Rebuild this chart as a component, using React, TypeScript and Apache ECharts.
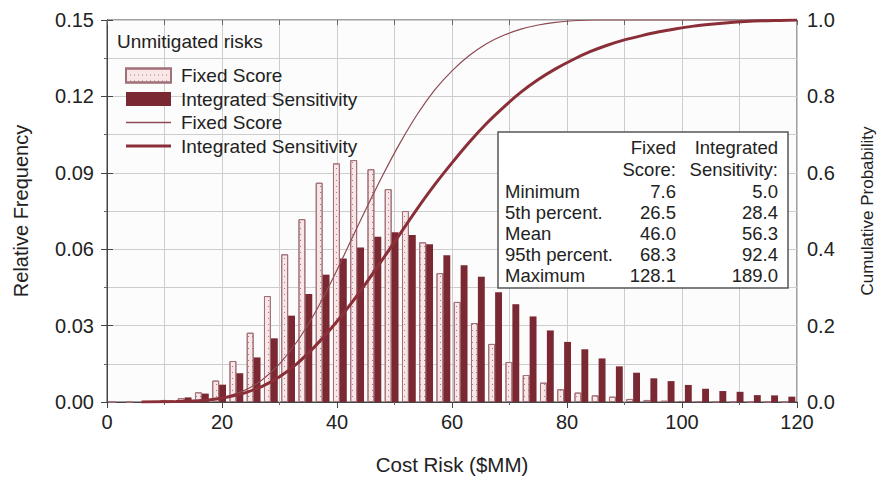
import React, { useEffect, useRef } from 'react';
import * as echarts from 'echarts';

// Histogram bins (width 3, centres)
const binCenters = [
  '1.5', '4.5', '7.5', '10.5', '13.5', '16.5', '19.5', '22.5', '25.5', '28.5',
  '31.5', '34.5', '37.5', '40.5', '43.5', '46.5', '49.5', '52.5', '55.5', '58.5',
  '61.5', '64.5', '67.5', '70.5', '73.5', '76.5', '79.5', '82.5', '85.5', '88.5',
  '91.5', '94.5', '97.5', '100.5', '103.5', '106.5', '109.5', '112.5', '115.5', '118.5',
];

const fixedScoreFreq = [
  0, 0, 0, 0.0008, 0.0015, 0.0038, 0.0084, 0.0161, 0.0272, 0.0416,
  0.058, 0.0718, 0.0861, 0.0937, 0.095, 0.0914, 0.0836, 0.075, 0.0627, 0.0506,
  0.0393, 0.031, 0.0228, 0.0157, 0.0106, 0.0076, 0.005, 0.0037, 0.0026, 0.0021,
  0.0012, 0.0008, 0.0005, 0.0004, 0.0003, 0.0002, 0.0002, 0.0001, 0.0001, 0.0001,
];

const integratedFreq = [
  0, 0, 0, 0.0006, 0.0018, 0.0033, 0.0068, 0.0113, 0.0175, 0.025,
  0.0339, 0.0424, 0.05, 0.0563, 0.0607, 0.0649, 0.0667, 0.0656, 0.0619, 0.0576,
  0.0537, 0.0492, 0.0431, 0.0384, 0.0336, 0.0281, 0.0236, 0.0207, 0.0171, 0.014,
  0.0115, 0.0093, 0.0082, 0.0067, 0.0052, 0.0043, 0.004, 0.0027, 0.0026, 0.0021,
];

// Cumulative curves (x = cost, y = cumulative probability)
const fixedCdfX = [9, 12, 15, 18, 21, 24, 27, 30, 33, 36, 39, 42, 45, 48, 51, 54, 57, 60, 63, 66, 69, 72, 75, 78, 81, 85, 90, 120];
const fixedCdfY = [0, 0.001, 0.003, 0.006, 0.015, 0.031, 0.058, 0.1, 0.157, 0.229, 0.315, 0.409, 0.504, 0.595, 0.679, 0.754, 0.817, 0.867, 0.907, 0.938, 0.96, 0.976, 0.987, 0.994, 0.998, 1.0, 1.0, 1.0];

const integratedCdfX = [6, 12, 15, 18, 21, 24, 27, 30, 33, 36, 39, 42, 45, 48, 51, 54, 57, 60, 63, 66, 69, 72, 75, 78, 81, 84, 87, 90, 93, 96, 99, 102, 105, 108, 111, 114, 117, 120];
const integratedCdfY = [0, 0.001, 0.0025, 0.006, 0.013, 0.024, 0.041, 0.066, 0.1, 0.143, 0.193, 0.249, 0.31, 0.375, 0.441, 0.507, 0.569, 0.626, 0.68, 0.729, 0.772, 0.811, 0.844, 0.872, 0.896, 0.917, 0.934, 0.948, 0.959, 0.969, 0.977, 0.984, 0.989, 0.993, 0.996, 0.998, 0.999, 1.0];

// Statistics table
const statNames = ['Minimum', '5th percent.', 'Mean', '95th percent.', 'Maximum'];
const fixedStats = ['7.6', '26.5', '46.0', '68.3', '128.1'];
const integratedStats = ['5.0', '28.4', '56.3', '92.4', '189.0'];

const FONT = '"Liberation Sans", Arial, Helvetica, sans-serif';
const TXT = '#222';

export default function App() {
  const ref = useRef<HTMLDivElement>(null);

  useEffect(() => {
    if (!ref.current) return;
    const chart = echarts.init(ref.current, null, { renderer: 'svg' });

    const tableX = 498;
    const tableY = 132;
    const rowY0 = 191;
    const rowStep = 21;
    const txt = (text: string, x: number, y: number, align: string) => ({
      type: 'text', x, y, z: 10,
      style: { text, fontSize: 18.5, fontFamily: FONT, fill: TXT, align, verticalAlign: 'middle' },
    });
    const tableTexts: any[] = [
      txt('Fixed', 676, 147, 'right'),
      txt('Score:', 676, 169, 'right'),
      txt('Integrated', 778, 147, 'right'),
      txt('Sensitivity:', 778, 169, 'right'),
    ];
    statNames.forEach((n, i) => {
      const y = rowY0 + i * rowStep;
      tableTexts.push(txt(n, 505, y, 'left'));
      tableTexts.push(txt(fixedStats[i], 676, y, 'right'));
      tableTexts.push(txt(integratedStats[i], 778, y, 'right'));
    });

    const option: any = {
      animation: false,
      backgroundColor: '#ffffff',
      textStyle: { fontFamily: FONT, color: TXT },
      grid: {
        left: 107, right: 82, top: 20, bottom: 82,
        outerBoundsMode: 'none',
        containLabel: false,
        show: true, borderColor: '#444', borderWidth: 1, backgroundColor: '#fcfcfc',
      },
      legend: {
        orient: 'vertical',
        left: 125,
        top: 66,
        padding: 0,
        itemWidth: 45,
        itemHeight: 14,
        itemGap: 4.5,
        symbolKeepAspect: true,
        textStyle: { fontSize: 19, color: TXT, fontFamily: FONT, padding: [0, 0, 0, 5] },
        data: [
          { name: 'Fixed Score', icon: 'rect' },
          { name: 'Integrated Sensitivity', icon: 'rect' },
          { name: 'Fixed Score CDF', icon: 'path://M0,0H45V1.3H0Z' },
          { name: 'Integrated Sensitivity CDF', icon: 'path://M0,0H45V3H0Z' },
        ],
        formatter: (name: string) => name.replace(' CDF', ''),
      },
      xAxis: [
        { type: 'category', data: binCenters, boundaryGap: true, show: false, gridIndex: 0 },
        {
          type: 'value', min: 0, max: 120, interval: 20, position: 'bottom', gridIndex: 0,
          name: 'Cost Risk ($MM)', nameLocation: 'middle', nameGap: 52,
          nameTextStyle: { fontSize: 20.5, color: TXT, fontFamily: FONT },
          axisLine: { show: true, lineStyle: { color: '#444', width: 1 } },
          axisTick: { show: true, length: 6, lineStyle: { color: '#444' } },
          minorTick: { show: true, splitNumber: 2, length: 3, lineStyle: { color: '#666' } },
          axisLabel: { fontSize: 20, color: TXT, margin: 10, fontFamily: FONT },
          splitLine: { show: true, lineStyle: { color: '#cdcdcd', width: 1 } },
          minorSplitLine: { show: true, lineStyle: { color: '#cdcdcd', width: 1 } },
        },
        {
          type: 'value', min: 0, max: 120, interval: 10, position: 'top', gridIndex: 0,
          axisLine: { show: false },
          axisTick: { show: true, inside: true, length: 5, lineStyle: { color: '#666' } },
          axisLabel: { show: false },
          splitLine: { show: false },
        },
      ],
      yAxis: [
        {
          type: 'value', min: 0, max: 0.15, interval: 0.03, position: 'left',
          name: 'Relative Frequency', nameLocation: 'middle', nameGap: 76,
          nameTextStyle: { fontSize: 20, color: TXT, fontFamily: FONT },
          axisLine: { show: true, lineStyle: { color: '#444', width: 1 } },
          axisTick: { show: true, length: 6, lineStyle: { color: '#444' } },
          minorTick: { show: true, splitNumber: 2, length: 3, lineStyle: { color: '#666' } },
          axisLabel: { fontSize: 20, color: TXT, margin: 13, fontFamily: FONT, formatter: (v: number) => v.toFixed(2) },
          splitLine: { show: true, lineStyle: { color: '#cdcdcd', width: 1 } },
          minorSplitLine: { show: true, lineStyle: { color: '#cdcdcd', width: 1 } },
        },
        {
          type: 'value', min: 0, max: 1, interval: 0.2, position: 'right',
          name: 'Cumulative Probability', nameLocation: 'middle', nameGap: 62, nameRotate: 90,
          nameTextStyle: { fontSize: 17, color: TXT, fontFamily: FONT },
          axisLine: { show: true, lineStyle: { color: '#444', width: 1 } },
          axisTick: { show: true, length: 6, lineStyle: { color: '#444' } },
          axisLabel: { fontSize: 20, color: TXT, margin: 10, fontFamily: FONT, formatter: (v: number) => v.toFixed(1) },
          splitLine: { show: false },
        },
      ],
      series: [
        {
          name: 'Fixed Score', type: 'bar', xAxisIndex: 0, yAxisIndex: 0,
          data: fixedScoreFreq, barWidth: '40%', barGap: '0%',
          itemStyle: {
            color: '#f9e6e6', borderColor: '#a07078', borderWidth: 1,
            decal: { symbol: 'rect', symbolSize: 1, color: '#a87880', dashArrayX: [1, 3], dashArrayY: [1, 5] },
          },
        },
        {
          name: 'Integrated Sensitivity', type: 'bar', xAxisIndex: 0, yAxisIndex: 0,
          data: integratedFreq, barWidth: '40%', barGap: '0%',
          itemStyle: { color: '#7a2832' },
        },
        {
          name: 'Fixed Score CDF', type: 'line', xAxisIndex: 1, yAxisIndex: 1,
          data: fixedCdfX.map((x, i) => [x, fixedCdfY[i]]),
          symbol: 'none', smooth: 0.3, z: 5,
          lineStyle: { color: '#8e4a52', width: 1.2 },
          itemStyle: { color: '#8e4a52' },
        },
        {
          name: 'Integrated Sensitivity CDF', type: 'line', xAxisIndex: 1, yAxisIndex: 1,
          data: integratedCdfX.map((x, i) => [x, integratedCdfY[i]]),
          symbol: 'none', smooth: 0.3, z: 5,
          lineStyle: { color: '#8a2f38', width: 3 },
          itemStyle: { color: '#8a2f38' },
        },
      ],
      graphic: [
        { type: 'text', left: 117, top: 32, z: 10, style: { text: 'Unmitigated risks', fontSize: 19, fontFamily: FONT, fill: TXT } },
        {
          type: 'rect', shape: { x: tableX, y: tableY, width: 290, height: 156 },
          style: { fill: '#ffffff', stroke: '#555', lineWidth: 1.5 }, z: 9,
        },
        ...tableTexts,
      ],
    };

    chart.setOption(option);
    return () => chart.dispose();
  }, []);

  return <div ref={ref} style={{ position: 'absolute', left: 0, top: 0, width: 879, height: 484 }} />;
}
